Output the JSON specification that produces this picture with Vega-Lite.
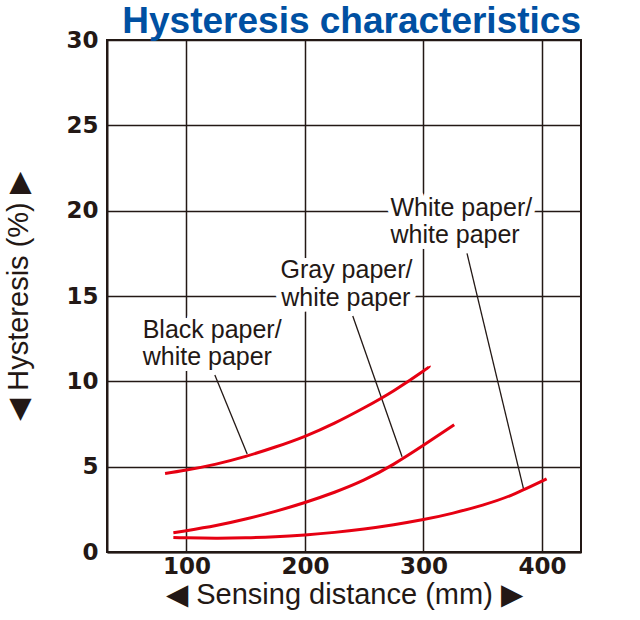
{
  "$schema": "https://vega.github.io/schema/vega-lite/v6.json",
  "autosize": {"type": "none"},
  "padding": {"left": 107, "top": 40, "right": 59, "bottom": 68},
  "width": 474,
  "height": 512,
  "background": "white",
  "title": {
    "text": "Hysteresis characteristics",
    "anchor": "end",
    "frame": "group",
    "font": "Liberation Sans",
    "fontSize": 37,
    "fontWeight": "bold",
    "color": "#0050a2",
    "offset": -12
  },
  "config": {
    "view": {"stroke": "#231815", "strokeWidth": 2},
    "axis": {
      "grid": true,
      "gridColor": "#231815",
      "gridWidth": 1.5,
      "gridOpacity": 1,
      "domainColor": "#231815",
      "domainWidth": 2,
      "ticks": false,
      "labelFont": "DejaVu Sans",
      "labelFontWeight": "bold",
      "labelFontSize": 23,
      "labelColor": "#231815",
      "titleFont": "Liberation Sans",
      "titleFontSize": 29,
      "titleFontWeight": "normal",
      "titleColor": "#231815"
    }
  },
  "datasets": {
    "curves": [
      {"series": "Black", "x": 82, "y": 4.6},
      {"series": "Black", "x": 100, "y": 4.8},
      {"series": "Black", "x": 125, "y": 5.15},
      {"series": "Black", "x": 150, "y": 5.6},
      {"series": "Black", "x": 175, "y": 6.15},
      {"series": "Black", "x": 200, "y": 6.78},
      {"series": "Black", "x": 225, "y": 7.55},
      {"series": "Black", "x": 250, "y": 8.45},
      {"series": "Black", "x": 275, "y": 9.45},
      {"series": "Black", "x": 300, "y": 10.6},
      {"series": "Black", "x": 305, "y": 10.9},
      {"series": "Gray", "x": 89, "y": 1.13},
      {"series": "Gray", "x": 100, "y": 1.25},
      {"series": "Gray", "x": 125, "y": 1.55},
      {"series": "Gray", "x": 150, "y": 1.93},
      {"series": "Gray", "x": 175, "y": 2.38},
      {"series": "Gray", "x": 200, "y": 2.9},
      {"series": "Gray", "x": 225, "y": 3.5},
      {"series": "Gray", "x": 250, "y": 4.22},
      {"series": "Gray", "x": 275, "y": 5.15},
      {"series": "Gray", "x": 300, "y": 6.25},
      {"series": "Gray", "x": 326, "y": 7.45},
      {"series": "White", "x": 89, "y": 0.85},
      {"series": "White", "x": 100, "y": 0.83},
      {"series": "White", "x": 125, "y": 0.81},
      {"series": "White", "x": 150, "y": 0.83},
      {"series": "White", "x": 175, "y": 0.89},
      {"series": "White", "x": 200, "y": 1.0},
      {"series": "White", "x": 225, "y": 1.15},
      {"series": "White", "x": 250, "y": 1.35},
      {"series": "White", "x": 275, "y": 1.6},
      {"series": "White", "x": 300, "y": 1.9},
      {"series": "White", "x": 325, "y": 2.28},
      {"series": "White", "x": 350, "y": 2.75},
      {"series": "White", "x": 375, "y": 3.35},
      {"series": "White", "x": 404, "y": 4.28}
    ],
    "labels": [
      {"text": "Black paper/", "x": 63.1, "y": 12.54},
      {"text": "white paper", "x": 63.1, "y": 10.96},
      {"text": "Gray paper/", "x": 179.4, "y": 16.05},
      {"text": "white paper", "x": 180, "y": 14.41},
      {"text": "White paper/", "x": 272.2, "y": 19.68},
      {"text": "white paper", "x": 272.2, "y": 18.1}
    ],
    "leaders": [
      {"x": 124, "y": 10.37, "x2": 151.3, "y2": 5.74},
      {"x": 240.4, "y": 13.83, "x2": 282, "y2": 5.58},
      {"x": 336.8, "y": 17.5, "x2": 384.6, "y2": 3.67}
    ]
  },
  "layer": [
    {
      "data": {"name": "labels"},
      "mark": {"type": "text", "align": "left", "baseline": "alphabetic", "font": "Liberation Sans", "fontSize": 25, "fill": "white", "stroke": "white", "strokeWidth": 12, "strokeJoin": "round"},
      "encoding": {
        "x": {"field": "x", "type": "quantitative", "scale": {"domain": [33, 433], "nice": false, "zero": false},
              "axis": {"values": [100, 200, 300, 400], "labelPadding": 3, "title": "◀ Sensing distance (mm) ▶", "titlePadding": 2}},
        "y": {"field": "y", "type": "quantitative", "scale": {"domain": [0, 30], "nice": false},
              "axis": {"values": [0, 5, 10, 15, 20, 25, 30], "labelPadding": 9, "title": "◀ Hysteresis (%) ▶", "titlePadding": 32}},
        "text": {"field": "text"}
      }
    },
    {
      "data": {"name": "leaders"},
      "mark": {"type": "rule", "color": "#231815", "strokeWidth": 1.3},
      "encoding": {
        "x": {"field": "x", "type": "quantitative"},
        "y": {"field": "y", "type": "quantitative"},
        "x2": {"field": "x2"},
        "y2": {"field": "y2"}
      }
    },
    {
      "data": {"name": "curves"},
      "mark": {"type": "line", "color": "#e60012", "strokeWidth": 3, "interpolate": "natural"},
      "encoding": {
        "x": {"field": "x", "type": "quantitative"},
        "y": {"field": "y", "type": "quantitative"},
        "detail": {"field": "series"}
      }
    },
    {
      "data": {"name": "labels"},
      "mark": {"type": "text", "align": "left", "baseline": "alphabetic", "font": "Liberation Sans", "fontSize": 25, "fill": "#231815"},
      "encoding": {
        "x": {"field": "x", "type": "quantitative"},
        "y": {"field": "y", "type": "quantitative"},
        "text": {"field": "text"}
      }
    }
  ]
}
